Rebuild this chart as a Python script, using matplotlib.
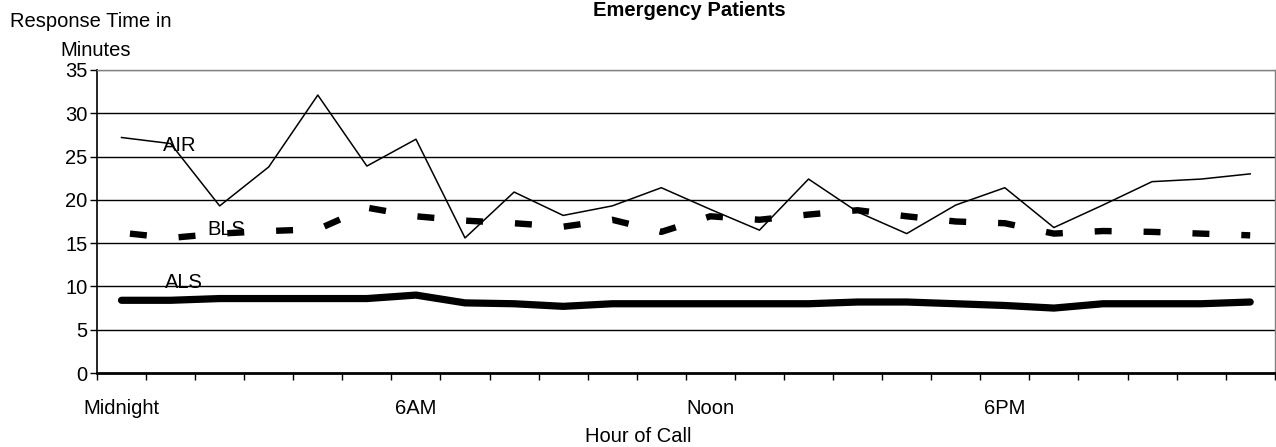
import matplotlib
matplotlib.use("Agg")
import matplotlib.pyplot as plt

plt.rcParams['font.family'] = ['Liberation Sans', 'DejaVu Sans']
plt.rcParams['lines.scale_dashes'] = False

hours = list(range(24))
hour_labels = {0: 'Midnight', 6: '6AM', 12: 'Noon', 18: '6PM'}

air = [27.2, 26.5, 19.3, 23.8, 32.1, 23.9, 27.0, 15.6, 20.9, 18.2, 19.3, 21.4,
       18.9, 16.5, 22.4, 18.6, 16.1, 19.4, 21.4, 16.8, 19.4, 22.1, 22.4, 23.0]
bls = [16.2, 15.6, 16.1, 16.4, 16.6, 19.1, 18.1, 17.6, 17.3, 16.9, 17.7, 16.3,
       18.1, 17.7, 18.3, 18.8, 18.1, 17.5, 17.3, 16.1, 16.4, 16.3, 16.1, 15.9]
als = [8.4, 8.4, 8.6, 8.6, 8.6, 8.6, 9.0, 8.1, 8.0, 7.7, 8.0, 8.0,
       8.0, 8.0, 8.0, 8.2, 8.2, 8.0, 7.8, 7.5, 8.0, 8.0, 8.0, 8.2]

fs = 14.5

fig = plt.figure(figsize=(12.76, 4.47), dpi=100)
ax = fig.add_axes([0.076, 0.1655, 0.923, 0.678])

ax.set_ylim(0, 35)
ax.set_xlim(-0.5, 23.5)
ax.set_yticks(range(0, 36, 5))
for y in range(5, 36, 5):
    ax.axhline(y, color='black' if y < 35 else '#808080', lw=1.0, zorder=1)

ax.plot(hours, air, color='black', lw=1.1, zorder=3)
ax.plot(hours, bls, color='black', lw=4.6, zorder=3,
        linestyle=(35.2 - 6.1, (12.2, 23.0)), solid_capstyle='butt')
ax.plot(hours, als, color='black', lw=5.2, zorder=3, solid_capstyle='round')

ax.text(0.85, 26.3, 'AIR', fontsize=fs, va='center', zorder=4)
ax.text(1.74, 16.6, 'BLS', fontsize=fs, va='center', zorder=4)
ax.text(0.89, 10.5, 'ALS', fontsize=fs, va='center', zorder=4)

ax.set_xticks([x - 0.5 for x in range(25)])
ax.set_xticklabels([])
ax.set_xticks(list(hour_labels.keys()), minor=True)
ax.set_xticklabels(list(hour_labels.values()), minor=True)
ax.tick_params(axis='x', which='major', length=5, width=1, direction='out')
ax.tick_params(axis='x', which='minor', length=0, pad=19, labelsize=fs)
ax.tick_params(axis='y', length=5, width=1, labelsize=fs, pad=2)

for side in ['top', 'right']:
    ax.spines[side].set_color('#808080')
    ax.spines[side].set_linewidth(1.0)
ax.spines['left'].set_linewidth(1.2)
ax.spines['bottom'].set_linewidth(2.0)

fig.text(0.5, 0.024, 'Hour of Call', fontsize=fs, ha='center', va='center')
fig.text(0.008, 0.952, 'Response Time in', fontsize=fs, va='center')
fig.text(0.047, 0.886, 'Minutes', fontsize=fs, va='center')
fig.text(0.54, 0.965, 'Emergency Patients', fontsize=14.5, fontweight='bold',
         ha='center', va='baseline')

fig.savefig('out.png', dpi=100)
